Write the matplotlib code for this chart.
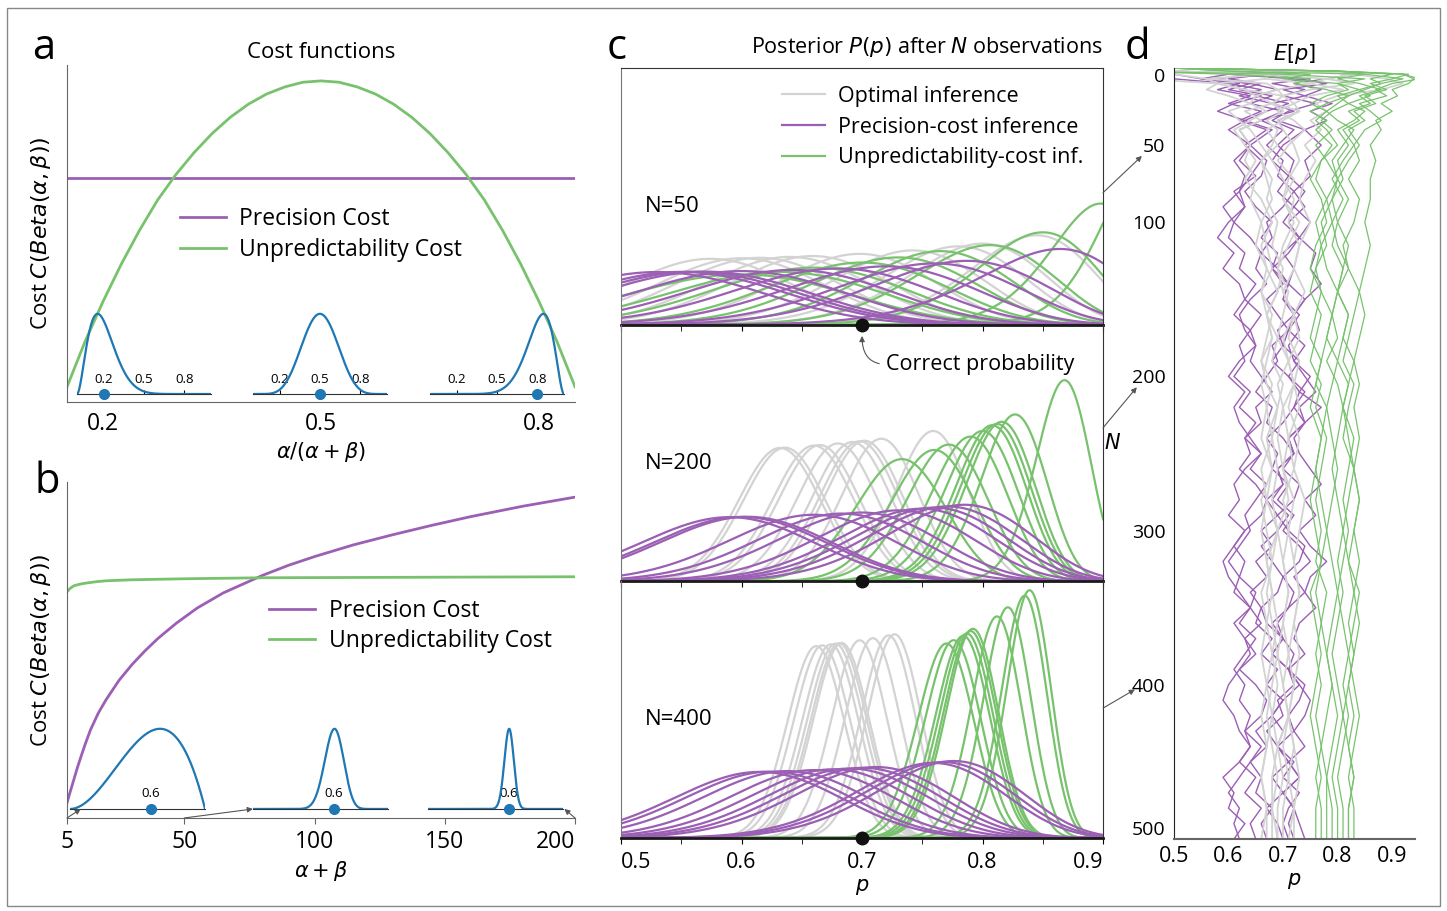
import math
import numpy as np
import matplotlib
matplotlib.use('Agg')
import matplotlib.pyplot as plt
from matplotlib.patches import ConnectionPatch, Rectangle

plt.rcParams['font.family'] = ['Open Sans', 'DejaVu Sans']
plt.rcParams['mathtext.fontset'] = 'dejavusans'

GRAY = '#d3d3d3'
PURPLE = '#9b5fb4'
GREEN = '#78c26e'
BLUE = '#1f77b4'

# ---- panel a : cost as a function of the mean
a_mean = [0.15, 0.175, 0.2, 0.225, 0.25, 0.275, 0.3, 0.325, 0.35, 0.375, 0.4, 0.425, 0.45, 0.475, 0.5,
          0.525, 0.55, 0.575, 0.6, 0.625, 0.65, 0.675, 0.7, 0.725, 0.75, 0.775, 0.8, 0.825, 0.85]
a_unpred = [0.045, 0.18, 0.30, 0.41, 0.51, 0.60, 0.675, 0.74, 0.797, 0.845, 0.884, 0.914, 0.935, 0.949, 0.953,
            0.949, 0.935, 0.914, 0.884, 0.845, 0.797, 0.74, 0.675, 0.60, 0.51, 0.41, 0.30, 0.18, 0.045]
a_precision = 0.665
a_insets = [(3, 12), (7.5, 7.5), (12, 3)]
a_ticks = [0.2, 0.5, 0.8]

# ---- panel b : cost as a function of alpha+beta
b_prec_x = [5, 6, 7, 8, 9, 10, 12, 14, 17, 20, 25, 30, 35, 40, 47, 55, 65, 80, 90, 100, 115, 130, 145, 160, 180, 200]
b_prec = [0.045, 0.072, 0.098, 0.124, 0.15, 0.174, 0.22, 0.262, 0.312, 0.352, 0.41, 0.457, 0.498, 0.535, 0.58,
          0.625, 0.67, 0.722, 0.752, 0.778, 0.813, 0.843, 0.871, 0.897, 0.928, 0.955]
b_unpred_x = [5, 6, 7, 8, 10, 13, 16, 20, 30, 50, 80, 120, 160, 200]
b_unpred = [0.673, 0.682, 0.688, 0.692, 0.696, 0.700, 0.703, 0.706, 0.709, 0.712, 0.715, 0.716, 0.717, 0.718]
b_insets = [(3, 2), (30, 20), (120, 80)]
b_ticks = [5, 50, 100, 150, 200]

# ---- panel c : posteriors (mode, concentration) after N observations
c_N = [50, 200, 400]
c_gray_modes = [[0.574, 0.60, 0.615, 0.64, 0.659, 0.698, 0.742, 0.78, 0.80, 0.845],
                [0.632, 0.636, 0.660, 0.665, 0.680, 0.692, 0.698, 0.702, 0.716, 0.759],
                [0.662, 0.667, 0.674, 0.678, 0.681, 0.683, 0.698, 0.709, 0.722, 0.727]]
c_purple_modes = [[0.53, 0.55, 0.56, 0.57, 0.60, 0.643, 0.68, 0.72, 0.76, 0.787, 0.864],
                  [0.590, 0.600, 0.605, 0.660, 0.683, 0.700, 0.730, 0.749, 0.760, 0.771, 0.785],
                  [0.615, 0.624, 0.638, 0.660, 0.676, 0.690, 0.701, 0.712, 0.759, 0.767, 0.776]]
c_purple_n = [32, 47, 49]
c_green_modes = [[0.60, 0.632, 0.66, 0.70, 0.73, 0.765, 0.806, 0.85, 0.898, 0.93],
                 [0.733, 0.760, 0.772, 0.790, 0.800, 0.808, 0.812, 0.816, 0.827, 0.868],
                 [0.770, 0.776, 0.784, 0.787, 0.790, 0.792, 0.812, 0.821, 0.835, 0.839]]
c_green_n = [[28, 30, 34, 38, 42, 46, 47, 52, 65, 75],
             [141, 152, 159, 168, 175, 183, 183, 185, 193, 225],
             [325, 330, 336, 340, 345, 350, 364, 380, 393, 403]]
c_true_p = 0.7

# ---- panel d : posterior mean along the observation sequence
d_N = [0, 2, 4, 7, 10, 14, 18, 23, 28, 34, 40, 50, 60, 72, 85, 100, 115, 130, 145, 160,
       175, 190, 205, 220, 240, 260, 280, 300, 320, 340, 360, 380, 400, 420, 440, 460, 480, 500]
d_N_purple = [0, 2, 4, 7, 10, 14, 18, 23, 28, 34, 40] + list(range(50, 501, 10))
d_gray = [
    [0.50, 0.75, 0.83, 0.78, 0.75, 0.69, 0.70, 0.68, 0.70, 0.67, 0.69, 0.68, 0.66, 0.67, 0.68, 0.66, 0.67, 0.68, 0.66, 0.67,
     0.68, 0.67, 0.66, 0.67, 0.68, 0.66, 0.67, 0.66, 0.67, 0.68, 0.67, 0.66, 0.67, 0.66, 0.67, 0.66, 0.67, 0.66],
    [0.50, 0.50, 0.67, 0.78, 0.83, 0.75, 0.70, 0.72, 0.73, 0.69, 0.70, 0.72, 0.73, 0.71, 0.70, 0.72, 0.70, 0.69, 0.71, 0.70,
     0.69, 0.71, 0.72, 0.70, 0.69, 0.70, 0.71, 0.69, 0.70, 0.71, 0.70, 0.69, 0.70, 0.71, 0.69, 0.70, 0.69, 0.69],
    [0.50, 0.25, 0.50, 0.56, 0.58, 0.63, 0.65, 0.64, 0.60, 0.62, 0.64, 0.66, 0.68, 0.70, 0.72, 0.71, 0.73, 0.72, 0.70, 0.72,
     0.73, 0.71, 0.72, 0.73, 0.71, 0.72, 0.70, 0.71, 0.72, 0.73, 0.72, 0.71, 0.72, 0.71, 0.72, 0.71, 0.72, 0.71],
    [0.50, 0.75, 0.67, 0.56, 0.67, 0.69, 0.65, 0.68, 0.63, 0.66, 0.62, 0.64, 0.63, 0.65, 0.64, 0.66, 0.65, 0.67, 0.66, 0.68,
     0.67, 0.66, 0.68, 0.67, 0.66, 0.68, 0.67, 0.69, 0.68, 0.67, 0.68, 0.69, 0.68, 0.67, 0.68, 0.69, 0.68, 0.68],
    [0.50, 0.75, 0.83, 0.89, 0.92, 0.88, 0.80, 0.76, 0.78, 0.75, 0.77, 0.74, 0.76, 0.74, 0.73, 0.75, 0.73, 0.72, 0.74, 0.72,
     0.71, 0.73, 0.72, 0.71, 0.73, 0.72, 0.74, 0.73, 0.72, 0.73, 0.72, 0.73, 0.72, 0.71, 0.72, 0.73, 0.72, 0.72],
    [0.50, 0.50, 0.33, 0.44, 0.58, 0.56, 0.60, 0.64, 0.67, 0.64, 0.61, 0.63, 0.65, 0.63, 0.66, 0.68, 0.66, 0.67, 0.69, 0.67,
     0.68, 0.66, 0.67, 0.69, 0.67, 0.68, 0.66, 0.67, 0.68, 0.66, 0.67, 0.68, 0.67, 0.68, 0.67, 0.66, 0.67, 0.67],
    [0.50, 0.75, 0.67, 0.67, 0.75, 0.81, 0.75, 0.72, 0.69, 0.72, 0.74, 0.71, 0.69, 0.72, 0.70, 0.73, 0.71, 0.69, 0.70, 0.72,
     0.70, 0.71, 0.69, 0.70, 0.71, 0.70, 0.72, 0.71, 0.70, 0.71, 0.70, 0.71, 0.70, 0.71, 0.70, 0.71, 0.70, 0.70],
    [0.50, 0.50, 0.67, 0.67, 0.58, 0.63, 0.70, 0.68, 0.73, 0.70, 0.67, 0.69, 0.66, 0.68, 0.67, 0.69, 0.68, 0.70, 0.69, 0.67,
     0.69, 0.68, 0.70, 0.69, 0.68, 0.69, 0.68, 0.69, 0.67, 0.68, 0.69, 0.68, 0.69, 0.68, 0.69, 0.68, 0.68, 0.69],
]
d_green = [
    [0.50, 0.80, 0.92, 0.94, 0.93, 0.90, 0.91, 0.88, 0.90, 0.87, 0.88, 0.86, 0.87, 0.86, 0.86, 0.85, 0.86, 0.85, 0.84, 0.85,
     0.84, 0.83, 0.84, 0.83, 0.84, 0.83, 0.84, 0.83, 0.84, 0.83, 0.84, 0.83, 0.82, 0.83, 0.82, 0.83, 0.82, 0.82],
    [0.50, 0.80, 0.90, 0.86, 0.88, 0.84, 0.86, 0.82, 0.85, 0.83, 0.80, 0.82, 0.80, 0.81, 0.79, 0.80, 0.82, 0.81, 0.80, 0.82,
     0.81, 0.80, 0.82, 0.81, 0.83, 0.82, 0.81, 0.82, 0.81, 0.80, 0.81, 0.82, 0.81, 0.82, 0.81, 0.80, 0.81, 0.81],
    [0.50, 0.60, 0.85, 0.92, 0.88, 0.85, 0.82, 0.80, 0.78, 0.80, 0.83, 0.81, 0.79, 0.80, 0.78, 0.79, 0.77, 0.78, 0.80, 0.79,
     0.78, 0.80, 0.79, 0.78, 0.79, 0.80, 0.79, 0.78, 0.79, 0.80, 0.79, 0.78, 0.79, 0.80, 0.79, 0.78, 0.79, 0.79],
    [0.50, 0.40, 0.70, 0.85, 0.80, 0.82, 0.78, 0.75, 0.78, 0.76, 0.78, 0.80, 0.77, 0.76, 0.78, 0.76, 0.77, 0.76, 0.75, 0.77,
     0.76, 0.75, 0.77, 0.76, 0.78, 0.77, 0.76, 0.77, 0.76, 0.78, 0.77, 0.76, 0.77, 0.76, 0.77, 0.76, 0.77, 0.77],
    [0.50, 0.80, 0.93, 0.90, 0.86, 0.89, 0.85, 0.87, 0.83, 0.85, 0.82, 0.84, 0.82, 0.80, 0.82, 0.80, 0.79, 0.81, 0.80, 0.82,
     0.81, 0.83, 0.82, 0.81, 0.82, 0.83, 0.82, 0.81, 0.82, 0.83, 0.82, 0.83, 0.82, 0.81, 0.82, 0.83, 0.82, 0.82],
    [0.50, 0.60, 0.75, 0.70, 0.80, 0.84, 0.80, 0.82, 0.79, 0.77, 0.79, 0.76, 0.78, 0.80, 0.79, 0.77, 0.78, 0.76, 0.77, 0.79,
     0.78, 0.77, 0.76, 0.78, 0.77, 0.76, 0.77, 0.78, 0.77, 0.76, 0.77, 0.78, 0.79, 0.78, 0.77, 0.78, 0.78, 0.78],
    [0.50, 0.80, 0.85, 0.80, 0.84, 0.88, 0.84, 0.86, 0.82, 0.84, 0.81, 0.83, 0.81, 0.79, 0.81, 0.79, 0.80, 0.82, 0.80, 0.79,
     0.80, 0.78, 0.80, 0.81, 0.80, 0.79, 0.80, 0.81, 0.80, 0.81, 0.80, 0.79, 0.80, 0.81, 0.80, 0.79, 0.80, 0.80],
    [0.50, 0.80, 0.92, 0.95, 0.90, 0.87, 0.89, 0.84, 0.86, 0.88, 0.85, 0.83, 0.84, 0.82, 0.84, 0.83, 0.81, 0.82, 0.84, 0.83,
     0.82, 0.81, 0.83, 0.82, 0.81, 0.83, 0.84, 0.83, 0.82, 0.84, 0.83, 0.82, 0.83, 0.84, 0.83, 0.82, 0.83, 0.83],
    [0.50, 0.40, 0.60, 0.75, 0.72, 0.78, 0.82, 0.78, 0.75, 0.78, 0.76, 0.79, 0.77, 0.75, 0.77, 0.78, 0.76, 0.75, 0.77, 0.76,
     0.75, 0.77, 0.76, 0.75, 0.77, 0.76, 0.75, 0.76, 0.77, 0.75, 0.76, 0.77, 0.76, 0.75, 0.76, 0.77, 0.76, 0.76],
]
d_purple = [
    [0.50, 0.50, 0.67, 0.60, 0.66, 0.62, 0.68, 0.64, 0.70, 0.66, 0.62,
     0.64, 0.62, 0.65, 0.61, 0.63, 0.60, 0.58, 0.61, 0.59, 0.62, 0.63, 0.61, 0.64, 0.65, 0.62, 0.60, 0.63, 0.61, 0.62, 0.64,
     0.66, 0.63, 0.61, 0.62, 0.60, 0.63, 0.61, 0.59, 0.60, 0.62, 0.64, 0.61, 0.63, 0.65, 0.62, 0.60, 0.59, 0.61, 0.62, 0.64,
     0.62, 0.59, 0.61, 0.60, 0.63, 0.61],
    [0.50, 0.75, 0.60, 0.72, 0.78, 0.70, 0.74, 0.68, 0.72, 0.66, 0.70,
     0.67, 0.70, 0.69, 0.72, 0.70, 0.67, 0.68, 0.66, 0.69, 0.71, 0.70, 0.73, 0.71, 0.68, 0.69, 0.67, 0.65, 0.68, 0.67, 0.70,
     0.72, 0.69, 0.70, 0.68, 0.71, 0.69, 0.66, 0.68, 0.70, 0.69, 0.66, 0.67, 0.70, 0.68, 0.71, 0.72, 0.69, 0.70, 0.67, 0.69,
     0.71, 0.68, 0.70, 0.67, 0.69, 0.70],
    [0.50, 0.75, 0.83, 0.78, 0.72, 0.77, 0.74, 0.79, 0.75, 0.78, 0.74,
     0.77, 0.74, 0.75, 0.72, 0.74, 0.71, 0.73, 0.76, 0.75, 0.77, 0.74, 0.72, 0.73, 0.71, 0.72, 0.74, 0.76, 0.73, 0.74, 0.72,
     0.73, 0.75, 0.77, 0.74, 0.76, 0.73, 0.75, 0.78, 0.75, 0.74, 0.76, 0.73, 0.72, 0.74, 0.71, 0.73, 0.75, 0.74, 0.72, 0.74,
     0.71, 0.73, 0.70, 0.72, 0.73, 0.74],
    [0.50, 0.25, 0.50, 0.55, 0.62, 0.58, 0.64, 0.60, 0.66, 0.62, 0.67,
     0.63, 0.66, 0.64, 0.62, 0.63, 0.61, 0.64, 0.66, 0.65, 0.67, 0.64, 0.62, 0.63, 0.65, 0.64, 0.66, 0.68, 0.65, 0.66, 0.63,
     0.64, 0.62, 0.65, 0.67, 0.66, 0.63, 0.61, 0.63, 0.62, 0.65, 0.64, 0.66, 0.63, 0.64, 0.62, 0.65, 0.67, 0.66, 0.63, 0.64,
     0.62, 0.65, 0.63, 0.66, 0.64, 0.65],
    [0.50, 0.50, 0.67, 0.75, 0.68, 0.74, 0.70, 0.76, 0.71, 0.68, 0.72,
     0.69, 0.72, 0.71, 0.74, 0.72, 0.75, 0.73, 0.70, 0.72, 0.71, 0.74, 0.72, 0.69, 0.70, 0.68, 0.71, 0.73, 0.72, 0.74, 0.71,
     0.72, 0.70, 0.73, 0.72, 0.69, 0.71, 0.74, 0.73, 0.70, 0.72, 0.71, 0.68, 0.70, 0.72, 0.71, 0.74, 0.73, 0.71, 0.72, 0.69,
     0.71, 0.73, 0.70, 0.72, 0.71, 0.72],
    [0.50, 0.75, 0.67, 0.57, 0.64, 0.69, 0.65, 0.71, 0.67, 0.63, 0.68,
     0.64, 0.67, 0.66, 0.63, 0.65, 0.68, 0.66, 0.69, 0.68, 0.71, 0.70, 0.72, 0.71, 0.74, 0.72, 0.75, 0.73, 0.77, 0.74, 0.71,
     0.72, 0.69, 0.70, 0.67, 0.69, 0.66, 0.68, 0.65, 0.67, 0.64, 0.66, 0.65, 0.68, 0.66, 0.69, 0.67, 0.70, 0.68, 0.65, 0.67,
     0.64, 0.66, 0.65, 0.68, 0.66, 0.67],
    [0.50, 0.50, 0.33, 0.50, 0.60, 0.66, 0.62, 0.68, 0.73, 0.69, 0.74,
     0.70, 0.68, 0.71, 0.69, 0.72, 0.70, 0.73, 0.71, 0.68, 0.70, 0.67, 0.69, 0.71, 0.70, 0.73, 0.71, 0.74, 0.72, 0.70, 0.67,
     0.69, 0.68, 0.71, 0.69, 0.72, 0.70, 0.73, 0.75, 0.72, 0.74, 0.71, 0.69, 0.70, 0.68, 0.71, 0.73, 0.70, 0.68, 0.70, 0.69,
     0.72, 0.70, 0.73, 0.71, 0.70, 0.71],
    [0.50, 0.75, 0.60, 0.55, 0.64, 0.60, 0.66, 0.61, 0.58, 0.63, 0.60,
     0.64, 0.61, 0.63, 0.62, 0.59, 0.61, 0.60, 0.63, 0.62, 0.65, 0.63, 0.66, 0.64, 0.62, 0.63, 0.61, 0.64, 0.62, 0.65, 0.63,
     0.66, 0.64, 0.67, 0.65, 0.63, 0.64, 0.62, 0.60, 0.62, 0.61, 0.64, 0.62, 0.65, 0.63, 0.61, 0.63, 0.62, 0.64, 0.63, 0.66,
     0.64, 0.62, 0.60, 0.62, 0.61, 0.62],
]
d_ticks = [0, 50, 100, 200, 300, 400, 500]


def beta_pdf(x, a, b):
    lognorm = math.lgamma(a + b) - math.lgamma(a) - math.lgamma(b)
    with np.errstate(divide='ignore'):
        return np.exp(lognorm + (a - 1) * np.log(x) + (b - 1) * np.log(1 - x))


def posterior(x, mode, n):
    return beta_pdf(x, 1 + mode * n, 1 + (1 - mode) * n)


def clean(ax, keep=('left', 'bottom'), color='#666666'):
    for side in ['left', 'right', 'top', 'bottom']:
        ax.spines[side].set_visible(side in keep)
        ax.spines[side].set_color(color)


def inset(fig, rect, ab, ticks, labels):
    ax = fig.add_axes(rect)
    ax.patch.set_alpha(0)
    x = np.linspace(0.001, 0.999, 400)
    y = beta_pdf(x, ab[0], ab[1])
    ax.plot(x, y, color=BLUE, lw=1.6)
    mean = ab[0] / (ab[0] + ab[1])
    ax.plot([mean], [0], 'o', color=BLUE, ms=7, clip_on=False, zorder=5)
    ax.set_xlim(0, 1)
    ax.set_ylim(0, y.max() * 1.06)
    clean(ax, keep=('bottom',), color='#333333')
    ax.set_yticks([])
    ax.set_xticks(ticks)
    ax.set_xticklabels(labels)
    ax.tick_params(axis='x', direction='in', length=3, pad=-15, labelsize=9.5)
    return ax


leg_kw = dict(loc='upper left', frameon=False, borderpad=0, borderaxespad=0,
              handlelength=2.0, handletextpad=0.6)

fig = plt.figure(figsize=(14.47, 9.11), dpi=100)

# ---------------- panel a
ax_a = fig.add_axes([0.0463, 0.5587, 0.3511, 0.3699])
ax_a.plot(a_mean, [a_precision] * len(a_mean), color=PURPLE, lw=2, label='Precision Cost')
ax_a.plot(a_mean, a_unpred, color=GREEN, lw=2, label='Unpredictability Cost')
ax_a.set_xlim(0.15, 0.85)
ax_a.set_ylim(0, 1)
clean(ax_a)
ax_a.set_yticks([])
ax_a.set_xticks(a_ticks)
ax_a.set_xticklabels([str(t) for t in a_ticks])
ax_a.tick_params(axis='x', length=0, labelsize=16.5, pad=7)
ax_a.set_xlabel(r'$\alpha/(\alpha+\beta)$', fontsize=15, labelpad=3)
ax_a.set_ylabel(r'Cost $C(Beta(\alpha,\beta))$', fontsize=16, labelpad=10)
ax_a.set_title('Cost functions', fontsize=16, pad=5)
ax_a.legend(bbox_to_anchor=(0.222, 0.578), fontsize=16.5, labelspacing=0.28, **leg_kw)

a_lefts = [0.0532, 0.1748, 0.2972]
for left, ab in zip(a_lefts, a_insets):
    inset(fig, [left, 0.5675, 0.0926, 0.0933], ab, a_ticks, [str(t) for t in a_ticks])

# ---------------- panel b
ax_b = fig.add_axes([0.0463, 0.1021, 0.3511, 0.3688])
ax_b.plot(b_prec_x, b_prec, color=PURPLE, lw=2, label='Precision Cost')
ax_b.plot(b_unpred_x, b_unpred, color=GREEN, lw=2, label='Unpredictability Cost')
ax_b.set_xlim(5, 200)
ax_b.set_ylim(0, 1)
clean(ax_b)
ax_b.set_yticks([])
ax_b.set_xticks(b_ticks)
ax_b.set_xticklabels([str(t) for t in b_ticks])
ax_b.tick_params(axis='x', length=4, labelsize=16.5, pad=5, color='#666666')
ax_b.get_xticklabels()[-1].set_ha('right')
ax_b.set_xlabel(r'$\alpha+\beta$', fontsize=15, labelpad=3)
ax_b.set_ylabel(r'Cost $C(Beta(\alpha,\beta))$', fontsize=16, labelpad=10)
ax_b.legend(bbox_to_anchor=(0.398, 0.652), fontsize=16.5, labelspacing=0.28, **leg_kw)

b_lefts = [0.0484, 0.1748, 0.2958]
b_ins = []
for left, ab in zip(b_lefts, b_insets):
    mean = ab[0] / (ab[0] + ab[1])
    b_ins.append(inset(fig, [left, 0.1120, 0.0933, 0.0933], ab, [mean], ['%.1f' % mean]))
    b_ins[-1].tick_params(axis='x', length=0, pad=-16)

arrow_kw = dict(arrowstyle='-|>', color='#555555', lw=0.8, mutation_scale=8)
for xv, ins, fx in zip([b_ticks[0], b_ticks[1], b_ticks[-1]], b_ins, [0.08, 0.0, 1.01]):
    fig.add_artist(ConnectionPatch(xyA=(xv, 0), coordsA=ax_b.transData,
                                   xyB=(fx, 0), coordsB=ins.transAxes, **arrow_kw))

# ---------------- panel c
px = np.linspace(0.5, 0.9, 500)
c_axes = []
c_bottoms = [0.6437, 0.3619, 0.0801]
for i, N in enumerate(c_N):
    ax = fig.add_axes([0.4292, c_bottoms[i], 0.3331, 0.2818])
    ax.patch.set_visible(False)
    hg = hp = hn = None
    for m in c_gray_modes[i]:
        hg, = ax.plot(px, posterior(px, m, N), color=GRAY, lw=1.6)
    for m, n in zip(c_green_modes[i], c_green_n[i]):
        hn, = ax.plot(px, posterior(px, m, n), color=GREEN, lw=1.6)
    for m in c_purple_modes[i]:
        hp, = ax.plot(px, posterior(px, m, c_purple_n[i]), color=PURPLE, lw=1.6)
    ax.plot([c_true_p], [0], 'o', color='#111111', ms=9, clip_on=False, zorder=10)
    ax.set_xlim(0.5, 0.9)
    ax.set_ylim(0, 22.6)
    ax.set_yticks([])
    ax.set_xticks([0.5, 0.6, 0.7, 0.8, 0.9])
    ax.set_xticks([0.55, 0.65, 0.75, 0.85], minor=True)
    ax.tick_params(axis='x', which='both', length=4, labelsize=15.5, pad=6)
    ax.spines['left'].set_color('#777777')
    ax.spines['right'].set_color('#333333')
    ax.spines['top'].set_color('#333333')
    ax.spines['top'].set_visible(i == 0)
    ax.spines['bottom'].set_color('#1a1a1a')
    ax.spines['bottom'].set_linewidth(2)
    ax.text(0.05, 0.46, 'N=%d' % N, transform=ax.transAxes, fontsize=16, va='center')
    if i < 2:
        ax.set_xticklabels([])
    c_axes.append(ax)

ax_c3 = c_axes[2]
ax_c3.set_xticklabels(['0.5', '0.6', '0.7', '0.8', '0.9'])
ax_c3.get_xticklabels()[0].set_ha('left')
ax_c3.get_xticklabels()[-1].set_ha('right')
ax_c3.set_xlabel(r'$p$', fontsize=15, labelpad=2)
c_axes[0].set_title(r'Posterior $P(p)$ after $N$ observations', loc='right', fontsize=15.5, pad=11)
c_axes[0].legend([hg, hp, hn], ['Optimal inference', 'Precision-cost inference', 'Unpredictability-cost inf.'],
                 bbox_to_anchor=(0.334, 0.93), fontsize=15.5, labelspacing=0.45, **leg_kw)
c_axes[1].annotate('Correct probability', xy=(c_true_p, 21.6), xytext=(0.72, 19.1), fontsize=15.5,
                   va='center', ha='left', annotation_clip=False,
                   arrowprops=dict(arrowstyle='-|>', color='#555555', lw=0.8, mutation_scale=8,
                                   connectionstyle='angle3,angleA=0,angleB=90', relpos=(0, 0.5),
                                   shrinkA=3, shrinkB=0))

# ---------------- panel d
ax_d = fig.add_axes([0.8113, 0.0790, 0.1666, 0.8463])
for tr in d_purple:
    ax_d.plot(tr, d_N_purple, color=PURPLE, lw=1.0)
for tr in d_gray:
    ax_d.plot(tr, d_N, color=GRAY, lw=1.3)
for tr in d_green:
    ax_d.plot(tr, d_N, color=GREEN, lw=0.9)
ax_d.set_xlim(0.5, 0.942)
ax_d.set_ylim(500, 0)
for side in ['right', 'top']:
    ax_d.spines[side].set_visible(False)
ax_d.spines['left'].set_color('#222222')
ax_d.spines['bottom'].set_color('#666666')
ax_d.spines['bottom'].set_linewidth(1.5)
ax_d.set_yticks(d_ticks)
ax_d.set_xticks([0.5, 0.6, 0.7, 0.8, 0.9])
ax_d.tick_params(axis='x', length=0, labelsize=15.5, pad=5)
ax_d.tick_params(axis='y', length=0, labelsize=14, pad=6)
ax_d.get_yticklabels()[0].set_va('top')
ax_d.get_yticklabels()[-1].set_va('bottom')
ax_d.set_xlabel(r'$p$', fontsize=15, labelpad=2)
ax_d.set_ylabel(r'$N$', fontsize=15, rotation=0, labelpad=14)
ax_d.set_title(r'$E[p]$', fontsize=15, pad=6)

# arrows from the posterior panels to the matching rows of panel d
for ax, yf, xf, nv in zip(c_axes, [0.514, 0.598, 0.506], [-0.133, -0.154, -0.162], [57, 207, 403]):
    fig.add_artist(ConnectionPatch(xyA=(1.0, yf), coordsA=ax.transAxes,
                                   xyB=(xf, nv), coordsB=ax_d.get_yaxis_transform(), **arrow_kw))

# panel letters
for lab, x, y in [('a', 0.0304, 0.947), ('b', 0.0325, 0.471), ('c', 0.4264, 0.947), ('d', 0.7858, 0.947)]:
    fig.text(x, y, lab, fontsize=30, ha='center', va='center')

fig.add_artist(Rectangle((0.0048, 0.0055), 0.9903, 0.9857, transform=fig.transFigure,
                         fill=False, edgecolor='#888888', lw=1))

fig.savefig('out.png', dpi=100)
